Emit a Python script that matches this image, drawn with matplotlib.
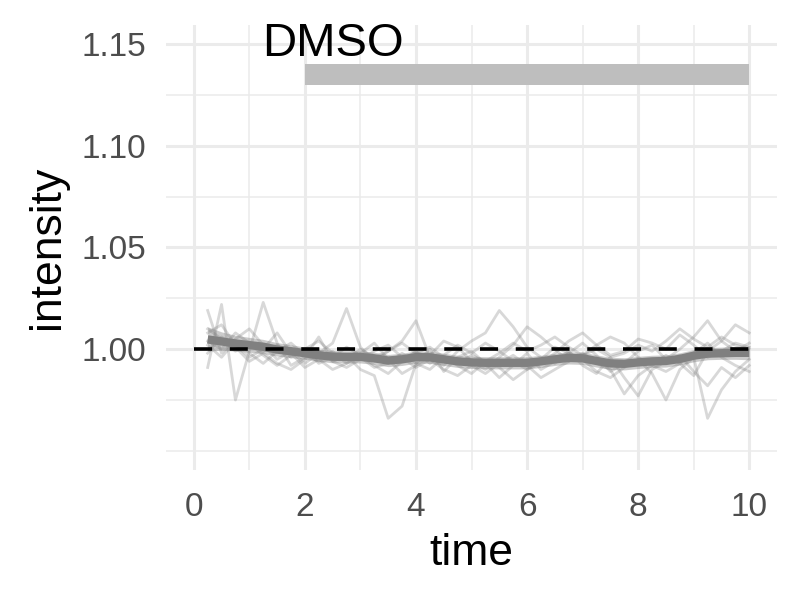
import matplotlib

matplotlib.use("Agg")
import matplotlib.pyplot as plt
import numpy as np

plt.rcParams["font.family"] = ["Liberation Sans", "DejaVu Sans"]

# time points and traces
time = [0.25, 0.5, 0.75, 1.0, 1.25, 1.5, 1.75, 2.0, 2.25, 2.5,
        2.75, 3.0, 3.25, 3.5, 3.75, 4.0, 4.25, 4.5, 4.75, 5.0,
        5.25, 5.5, 5.75, 6.0, 6.25, 6.5, 6.75, 7.0, 7.25, 7.5,
        7.75, 8.0, 8.25, 8.5, 8.75, 9.0, 9.25, 9.5, 9.75, 10.0]

trace_1 = [1.019, 0.998, 1.005, 1.010, 1.002, 0.995, 0.999, 0.993, 0.998, 1.003,
           1.020, 1.001, 0.994, 0.999, 1.004, 1.014, 0.996, 0.992, 0.999, 1.004,
           1.008, 1.019, 1.011, 1.001, 0.996, 0.993, 0.998, 1.003, 0.997, 0.989,
           0.993, 0.999, 1.002, 0.995, 1.000, 1.006, 1.014, 1.004, 0.999, 1.003]
trace_2 = [0.991, 1.022, 0.975, 0.999, 1.023, 1.003, 0.992, 0.996, 1.006, 0.994,
           0.997, 0.990, 0.987, 0.966, 0.972, 0.993, 1.000, 0.989, 0.996, 0.999,
           0.993, 0.986, 0.992, 0.998, 0.990, 0.994, 0.999, 0.992, 0.988, 0.996,
           0.986, 0.977, 0.990, 0.994, 0.997, 0.989, 0.982, 0.991, 0.986, 0.992]
trace_3 = [1.008, 1.012, 1.002, 0.996, 1.000, 1.008, 0.998, 0.991, 0.995, 0.990,
           0.993, 0.998, 1.003, 0.995, 0.988, 0.992, 0.997, 1.004, 1.001, 0.994,
           0.990, 0.996, 1.002, 1.011, 1.006, 1.000, 0.994, 0.997, 1.002, 1.006,
           1.003, 0.996, 0.992, 0.989, 0.993, 0.987, 0.999, 1.004, 1.012, 1.008]
trace_4 = [1.002, 0.996, 1.004, 0.998, 0.993, 0.999, 1.003, 0.997, 0.994, 0.999,
           0.993, 0.996, 0.991, 0.993, 0.998, 0.993, 0.990, 0.996, 0.992, 0.988,
           0.994, 0.991, 0.985, 0.990, 0.995, 1.001, 0.998, 0.995, 0.989, 0.986,
           0.991, 0.995, 0.988, 0.975, 0.990, 0.996, 0.966, 0.980, 0.989, 0.995]
trace_5 = [1.010, 1.005, 0.999, 1.003, 0.997, 0.992, 0.997, 1.000, 0.993, 0.996,
           1.001, 0.997, 0.992, 0.988, 0.994, 0.999, 0.993, 0.997, 1.002, 0.998,
           1.003, 0.999, 0.994, 0.990, 0.993, 0.998, 1.004, 1.008, 1.002, 0.997,
           0.999, 1.005, 1.003, 1.000, 1.007, 1.002, 0.996, 0.999, 1.003, 1.001]
trace_6 = [0.998, 1.006, 1.001, 0.994, 0.998, 0.993, 0.990, 0.995, 0.999, 0.994,
           0.991, 0.995, 0.999, 1.002, 0.996, 0.991, 0.995, 0.990, 0.987, 0.992,
           0.988, 0.993, 0.997, 0.992, 0.986, 0.990, 0.994, 0.998, 0.993, 0.990,
           0.978, 0.987, 0.992, 0.997, 0.993, 0.998, 1.003, 0.996, 0.992, 0.989]
trace_7 = [1.004, 1.000, 1.008, 1.003, 0.999, 1.002, 0.996, 1.000, 1.004, 0.998,
           0.995, 1.000, 0.996, 0.999, 1.003, 0.998, 1.001, 0.996, 0.993, 0.997,
           0.994, 0.998, 1.003, 0.999, 1.002, 1.006, 1.001, 0.997, 1.000, 0.996,
           0.998, 1.002, 0.999, 1.004, 1.010, 1.005, 1.001, 1.006, 1.002, 1.000]
traces = [trace_1, trace_2, trace_3, trace_4, trace_5, trace_6, trace_7]

mean_intensity = [1.0048, 1.0038, 1.0028, 1.0020, 1.0012, 0.9998, 0.9990, 0.9980, 0.9970, 0.9963,
                  0.9962, 0.9962, 0.9955, 0.9944, 0.9950, 0.9961, 0.9960, 0.9950, 0.9940, 0.9935,
                  0.9933, 0.9933, 0.9933, 0.9933, 0.9940, 0.9950, 0.9957, 0.9955, 0.9942, 0.9930,
                  0.9928, 0.9935, 0.9940, 0.9942, 0.9952, 0.9968, 0.9978, 0.9980, 0.9982, 0.9982]
ribbon_low = [0.9990, 0.9995, 0.9990, 0.9985, 0.9978, 0.9966, 0.9958, 0.9950, 0.9940, 0.9933,
              0.9932, 0.9932, 0.9925, 0.9914, 0.9920, 0.9931, 0.9930, 0.9920, 0.9910, 0.9905,
              0.9903, 0.9903, 0.9903, 0.9903, 0.9910, 0.9920, 0.9927, 0.9925, 0.9912, 0.9900,
              0.9898, 0.9905, 0.9910, 0.9912, 0.9922, 0.9938, 0.9948, 0.9950, 0.9950, 0.9948]
ribbon_high = [1.0110, 1.0085, 1.0068, 1.0058, 1.0048, 1.0032, 1.0022, 1.0010, 1.0000, 0.9993,
               0.9992, 0.9992, 0.9985, 0.9974, 0.9980, 0.9991, 0.9990, 0.9980, 0.9970, 0.9965,
               0.9963, 0.9963, 0.9963, 0.9963, 0.9970, 0.9980, 0.9987, 0.9985, 0.9972, 0.9960,
               0.9958, 0.9965, 0.9970, 0.9972, 0.9982, 0.9998, 1.0008, 1.0010, 1.0014, 1.0016]

baseline_x = [0, 10]
baseline_y = [1.0, 1.0]
treatment_x = [2, 10]
treatment_low = 1.13
treatment_high = 1.14
label_x, label_y, label_text = 2.5, 1.15, "DMSO"

y_ticks = [1.00, 1.05, 1.10, 1.15]
y_minor = [0.95, 0.975, 1.025, 1.075, 1.125]
x_ticks = [0, 2, 4, 6, 8, 10]
x_minor = [1, 3, 5, 7, 9]

fig = plt.figure(figsize=(8, 6), dpi=100)
ax = fig.add_axes([0.2075, 0.2167, 0.7638, 0.7417])

for trace in traces:
    ax.plot(time, trace, color="#7f7f7f", alpha=0.3, linewidth=2.0, zorder=2)

ax.fill_between(time, ribbon_low, ribbon_high, color="#7f7f7f", alpha=0.4,
                linewidth=0, zorder=3)
ax.plot(time, mean_intensity, color="#808080", linewidth=6.0, zorder=4,
        solid_capstyle="butt")
ax.plot(baseline_x, baseline_y, color="black", linewidth=2.6, zorder=5,
        dashes=(5.0, 4.9), dash_capstyle="butt")

ax.fill_between(treatment_x, treatment_low, treatment_high, color="#bebebe",
                linewidth=0, zorder=3)
ax.text(label_x, label_y, label_text, fontsize=34, ha="center", va="center",
        color="black", zorder=6)

ax.set_xlim(-0.5, 10.5)
ax.set_ylim(0.9406, 1.1594)
ax.set_xticks(x_ticks)
ax.set_xticks(x_minor, minor=True)
ax.set_yticks(y_ticks)
ax.set_yticks(y_minor, minor=True)
ax.set_yticklabels([f"{v:.2f}" for v in y_ticks])
ax.tick_params(which="both", length=0)
ax.tick_params(axis="both", labelsize=24, labelcolor="#4d4d4d")
ax.tick_params(axis="x", pad=16)
ax.tick_params(axis="y", pad=14)
ax.grid(which="major", color="#ebebeb", linewidth=2.2, zorder=0)
ax.grid(which="minor", color="#ebebeb", linewidth=1.1, zorder=0)
ax.set_axisbelow(True)
for spine in ax.spines.values():
    spine.set_visible(False)

ax.set_xlabel("time", fontsize=32, labelpad=7)
ax.set_ylabel("intensity", fontsize=32, labelpad=10)

fig.savefig("out.png", dpi=100)
plt.close(fig)
